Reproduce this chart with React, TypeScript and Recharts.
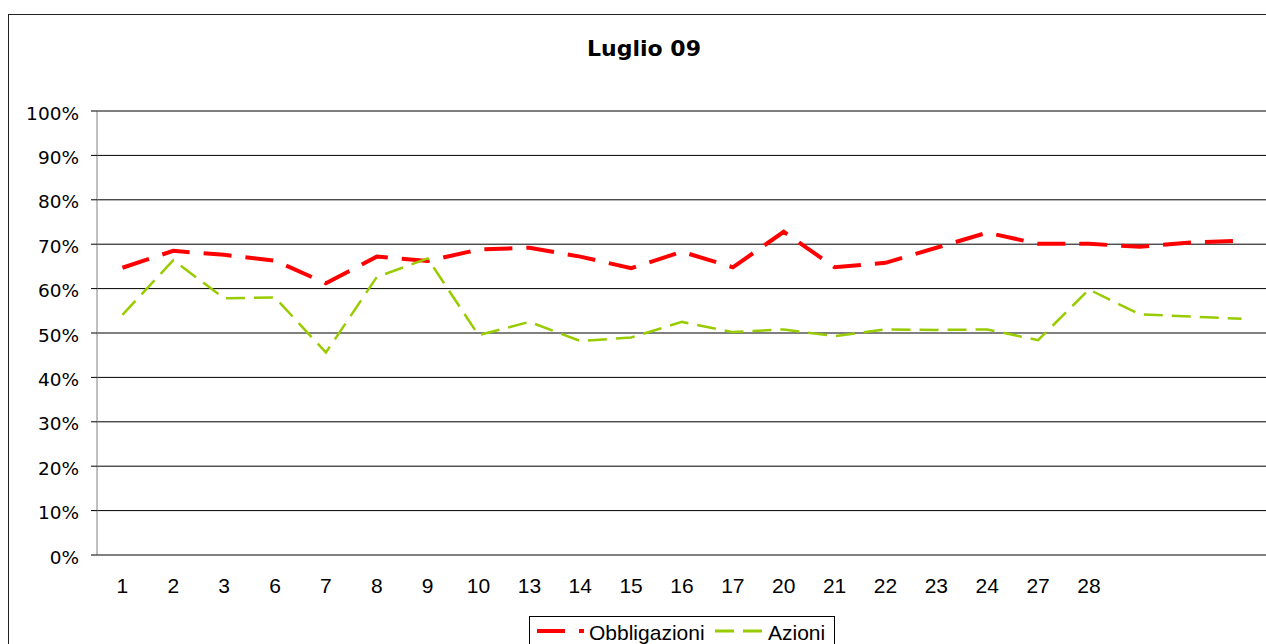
import { CartesianGrid, Line, LineChart, XAxis, YAxis } from "recharts"

// trading days of July 2009 (last three slots have no label)
const DAYS = ["1", "2", "3", "6", "7", "8", "9", "10", "13", "14", "15", "16", "17", "20", "21", "22", "23", "24", "27", "28", " ", "  ", "   "]

const OBBLIGAZIONI = [64.7, 68.5, 67.6, 66.3, 61.2, 67.2, 66.2, 68.8, 69.2, 67.2, 64.6, 68.3, 64.8, 72.8, 64.8, 65.8, 69.2, 72.6, 70.1, 70.1, 69.4, 70.4, 70.8]
const AZIONI = [54.1, 66.4, 57.8, 58.0, 45.6, 62.6, 66.8, 49.5, 52.5, 48.2, 49.0, 52.5, 50.2, 50.8, 49.3, 50.8, 50.7, 50.8, 48.4, 59.8, 54.2, 53.7, 53.2]

const Y_TICKS = [0, 10, 20, 30, 40, 50, 60, 70, 80, 90, 100]

const RED = "#ff0000"
const GREEN = "#99cc00"

const data = DAYS.map((day, i) => ({
  day,
  obbligazioni: OBBLIGAZIONI[i],
  azioni: AZIONI[i],
}))

// tick marks sit between the categories, like in Excel
const BOUNDARIES = [...DAYS.map((_, i) => i), DAYS.length]

export default function App() {
  return (
    <div
      style={{
        position: "fixed",
        left: 0,
        top: 0,
        width: 1266,
        height: 644,
        overflow: "hidden",
        background: "#fff",
      }}
    >
      <div
        style={{
          position: "absolute",
          left: 8,
          top: 14,
          width: 1300,
          height: 700,
          border: "1px solid #222",
        }}
      />
      <div
        style={{
          position: "absolute",
          left: 0,
          top: 38,
          width: 1288,
          textAlign: "center",
          fontFamily: "'DejaVu Sans', sans-serif",
          fontWeight: "bold",
          fontSize: 22,
          lineHeight: "22px",
          color: "#000",
        }}
      >
        Luglio 09
      </div>
      <div style={{ position: "absolute", left: 0, top: 0 }}>
        <LineChart
          width={1300}
          height={700}
          data={data}
          margin={{ top: 111, right: 33, bottom: 115, left: 0 }}
        >
          <CartesianGrid xAxisId="cat" vertical={false} stroke="#000" strokeOpacity={1} />
          <XAxis
            xAxisId="grid"
            type="number"
            domain={[0, DAYS.length]}
            ticks={BOUNDARIES}
            allowDataOverflow
            tick={false}
            tickSize={7}
            tickLine={{ stroke: "#000" }}
            axisLine={{ stroke: "#000" }}
            height={0}
          />
          <XAxis
            xAxisId="cat"
            dataKey="day"
            scale="band"
            interval={0}
            axisLine={false}
            tickLine={false}
            tickSize={7}
            tickMargin={16}
            height={30}
            tick={{ fill: "#000", fontSize: 21, fontFamily: "'Liberation Sans', Arial, sans-serif" }}
          />
          <YAxis
            domain={[0, 100]}
            ticks={Y_TICKS}
            tickFormatter={(v: number) => `${v}%`}
            width={97}
            tickSize={6}
            tickMargin={12}
            axisLine={{ stroke: "#808080" }}
            tickLine={{ stroke: "#000" }}
            tick={{ fill: "#000", fontSize: 18.5, fontFamily: "'DejaVu Sans', sans-serif", dy: 2 }}
          />
          <Line
            xAxisId="cat"
            type="linear"
            dataKey="obbligazioni"
            name="Obbligazioni"
            stroke={RED}
            strokeWidth={4}
            strokeDasharray="28 14"
            dot={false}
            isAnimationActive={false}
          />
          <Line
            xAxisId="cat"
            type="linear"
            dataKey="azioni"
            name="Azioni"
            stroke={GREEN}
            strokeWidth={2.5}
            strokeDasharray="19 9"
            dot={false}
            isAnimationActive={false}
          />
        </LineChart>
      </div>
      <div
        style={{
          position: "absolute",
          left: 529,
          top: 616,
          width: 304,
          height: 40,
          border: "1px solid #000",
          background: "#fff",
        }}
      >
        <svg width={304} height={40} style={{ display: "block" }}>
          <line x1={7} y1={14} x2={54} y2={14} stroke={RED} strokeWidth={4} strokeDasharray="28 14" />
          <text x={59} y={23} fontSize={21} fontFamily="'Liberation Sans', Arial, sans-serif" fill="#000">
            Obbligazioni
          </text>
          <line x1={185} y1={14} x2={232} y2={14} stroke={GREEN} strokeWidth={3} strokeDasharray="19 9" />
          <text x={238} y={23} fontSize={21} fontFamily="'Liberation Sans', Arial, sans-serif" fill="#000">
            Azioni
          </text>
        </svg>
      </div>
    </div>
  )
}
